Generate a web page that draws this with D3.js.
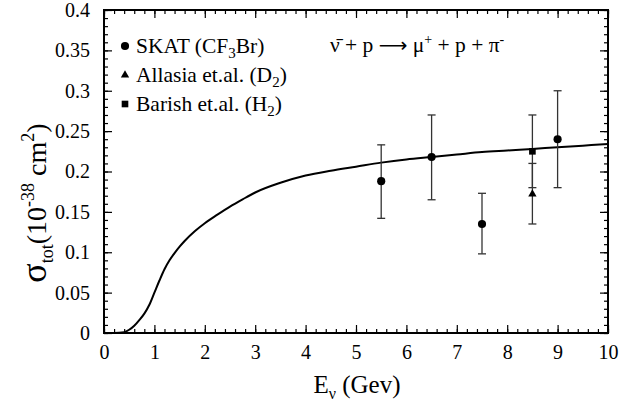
<!DOCTYPE html>
<html>
<head>
<meta charset="utf-8">
<script src="https://cdn.jsdelivr.net/npm/d3@7"></script>
<style>
body { margin:0; background:#fff; }
svg text, svg tspan { font-family: "Liberation Serif", "Times New Roman", serif; fill:#000; }
.tick line { stroke:#000; stroke-width:1.2; }
</style>
</head>
<body>
<div id="chart"></div>
<script>
// theory curve
var curveE = [0, 0.2, 0.4, 0.5, 0.6, 0.7, 0.8, 0.9, 1.0, 1.1, 1.2, 1.3, 1.4, 1.5, 1.6, 1.8, 2.0, 2.25, 2.5, 2.75, 3.0, 3.5, 4.0, 4.5, 5.0, 5.5, 6.0, 6.5, 7.0, 7.5, 8.0, 8.5, 9.0, 9.5, 10];
var curveSigma = [0, 0, 0.001, 0.004, 0.009, 0.016, 0.024, 0.035, 0.050, 0.065, 0.079, 0.090, 0.099, 0.107, 0.114, 0.126, 0.136, 0.1465, 0.1565, 0.1655, 0.174, 0.186, 0.195, 0.201, 0.206, 0.211, 0.215, 0.218, 0.221, 0.224, 0.226, 0.228, 0.230, 0.232, 0.234];

// SKAT (CF3Br)
var skatE = [5.5, 6.5, 7.5, 9.0];
var skatSigma = [0.188, 0.218, 0.135, 0.240];
var skatLow = [0.142, 0.165, 0.098, 0.180];
var skatHigh = [0.233, 0.270, 0.173, 0.300];

// Allasia et.al. (D2)
var allasiaE = [8.5];
var allasiaSigma = [0.172];
var allasiaLow = [0.135];
var allasiaHigh = [0.210];

// Barish et.al. (H2)
var barishE = [8.5];
var barishSigma = [0.225];
var barishLow = [0.180];
var barishHigh = [0.270];

var xTicks = [0, 1, 2, 3, 4, 5, 6, 7, 8, 9, 10];
var yTicks = [0, 0.05, 0.1, 0.15, 0.2, 0.25, 0.3, 0.35, 0.4];
var yTickLabels = ["0", "0.05", "0.1", "0.15", "0.2", "0.25", "0.3", "0.35", "0.4"];

var marginLeft = 104, marginTop = 10, width = 504, height = 323;

var xScale = d3.scaleLinear().domain([0, 10]).range([0, width]);
var yScale = d3.scaleLinear().domain([0, 0.4]).range([height, 0]);

var svg = d3.select('#chart').append("svg")
	.attr("width", 620)
	.attr("height", 407);

var g = svg.append("g")
	.attr("transform", "translate(" + marginLeft + "," + marginTop + ")");

var xMinor = d3.range(0, 10.001, 0.2);
var yMinor = d3.range(0, 0.4001, 0.01);

function drawAxis(axis, tx, ty) {
	var a = g.append("g")
		.attr("transform", "translate(" + tx + "," + ty + ")")
		.call(axis);
	a.attr("font-family", null).attr("font-size", null);
	a.select(".domain").remove();
	a.selectAll("text").style("font-size", "20px");
	return a;
}

// minor ticks, all four sides, pointing in
drawAxis(d3.axisBottom(xScale).tickValues(xMinor).tickSize(-4).tickFormat(""), 0, height);
drawAxis(d3.axisTop(xScale).tickValues(xMinor).tickSize(-4).tickFormat(""), 0, 0);
drawAxis(d3.axisLeft(yScale).tickValues(yMinor).tickSize(-4).tickFormat(""), 0, 0);
drawAxis(d3.axisRight(yScale).tickValues(yMinor).tickSize(-4).tickFormat(""), width, 0);

// major ticks
drawAxis(d3.axisBottom(xScale).tickValues(xTicks).tickSize(-8).tickPadding(12).tickFormat(d3.format("d")), 0, height);
drawAxis(d3.axisTop(xScale).tickValues(xTicks).tickSize(-8).tickFormat(""), 0, 0);
drawAxis(d3.axisLeft(yScale).tickValues(yTicks).tickSize(-8).tickPadding(14)
	.tickFormat(function(d, i) { return yTickLabels[i]; }), 0, 0);
drawAxis(d3.axisRight(yScale).tickValues(yTicks).tickSize(-8).tickFormat(""), width, 0);

// frame
g.append("rect")
	.attr("width", width)
	.attr("height", height)
	.attr("fill", "none")
	.attr("stroke", "#000")
	.attr("stroke-width", 2);

// theory line
var lineGenerator = d3.line()
	.x(function(d, i) { return xScale(curveE[i]); })
	.y(function(d) { return yScale(d); })
	.curve(d3.curveMonotoneX);

g.append("path")
	.attr("d", lineGenerator(curveSigma))
	.attr("fill", "none")
	.attr("stroke", "#000")
	.attr("stroke-width", 2);

// error bars
function errorBars(es, lows, highs) {
	var cap = 4;
	es.forEach(function(e, i) {
		var x = xScale(e);
		var eb = g.append("g").attr("stroke", "#333").attr("stroke-width", 1.3);
		eb.append("line").attr("x1", x).attr("x2", x).attr("y1", yScale(lows[i])).attr("y2", yScale(highs[i]));
		eb.append("line").attr("x1", x - cap).attr("x2", x + cap).attr("y1", yScale(lows[i])).attr("y2", yScale(lows[i]));
		eb.append("line").attr("x1", x - cap).attr("x2", x + cap).attr("y1", yScale(highs[i])).attr("y2", yScale(highs[i]));
	});
}
errorBars(skatE, skatLow, skatHigh);
errorBars(barishE, barishLow, barishHigh);
errorBars(allasiaE, allasiaLow, allasiaHigh);

var circleSym = d3.symbol().type(d3.symbolCircle).size(52);
var triSym = d3.symbol().type(d3.symbolTriangle).size(30);
var sqSym = d3.symbol().type(d3.symbolSquare).size(44);

g.selectAll(".skat")
	.data(skatSigma)
	.enter()
	.append("path")
	.attr("d", circleSym)
	.attr("transform", function(d, i) { return "translate(" + xScale(skatE[i]) + "," + yScale(d) + ")"; });

g.selectAll(".allasia")
	.data(allasiaSigma)
	.enter()
	.append("path")
	.attr("d", triSym)
	.attr("transform", function(d, i) { return "translate(" + xScale(allasiaE[i]) + "," + yScale(d) + ")"; });

g.selectAll(".barish")
	.data(barishSigma)
	.enter()
	.append("path")
	.attr("d", sqSym)
	.attr("transform", function(d, i) { return "translate(" + xScale(barishE[i]) + "," + yScale(d) + ")"; });

// legend
var legend = svg.append("g");
var rows = [
	{sym: circleSym, y: 46, parts: [["SKAT (CF", 0], ["3", 1], ["Br)", 0]]},
	{sym: triSym, y: 75, parts: [["Allasia et.al. (D", 0], ["2", 1], [")", 0]]},
	{sym: sqSym, y: 104, parts: [["Barish et.al. (H", 0], ["2", 1], [")", 0]]}
];
rows.forEach(function(r) {
	legend.append("path").attr("d", r.sym).attr("transform", "translate(125," + r.y + ")");
	var t = legend.append("text").attr("x", 136).attr("y", r.y + 7);
	r.parts.forEach(function(p, k) {
		t.append("tspan")
			.attr("dy", p[1] ? 5 : (k > 0 ? -5 : 0))
			.style("font-size", p[1] ? "15px" : "21.5px")
			.text(p[0]);
	});
});

// reaction
var react = svg.append("text").attr("x", 330).attr("y", 52).style("font-size", "21.5px");
react.append("tspan").text("\u03BD\u0304 + p ");
react.append("tspan").style("font-family", "'DejaVu Sans'").style("font-size", "20px").text("\u27F6");
react.append("tspan").text(" \u03BC");
react.append("tspan").attr("dy", -8).style("font-size", "14px").text("+");
react.append("tspan").attr("dy", 8).text(" + p + \u03C0");
react.append("tspan").attr("dy", -8).style("font-size", "14px").text("-");

// x title
var xt = svg.append("text").attr("x", 357).attr("y", 393).attr("text-anchor", "middle").style("font-size", "25px");
xt.append("tspan").text("E");
xt.append("tspan").attr("dy", 6).style("font-size", "16px").text("\u03BD");
xt.append("tspan").attr("dy", -6).text(" (Gev)");

// y title
var yt = svg.append("text")
	.attr("transform", "translate(46,203) rotate(-90)")
	.attr("text-anchor", "middle")
	.style("font-size", "28px");
yt.append("tspan").style("font-size", "36px").text("\u03C3");
yt.append("tspan").attr("dy", 7).style("font-size", "18px").text("tot");
yt.append("tspan").attr("dy", -7).text("(10");
yt.append("tspan").attr("dy", -12).style("font-size", "18px").text("-38");
yt.append("tspan").attr("dy", 12).text(" cm");
yt.append("tspan").attr("dy", -12).style("font-size", "18px").text("2");
yt.append("tspan").attr("dy", 12).text(")");
</script>
</body>
</html>
